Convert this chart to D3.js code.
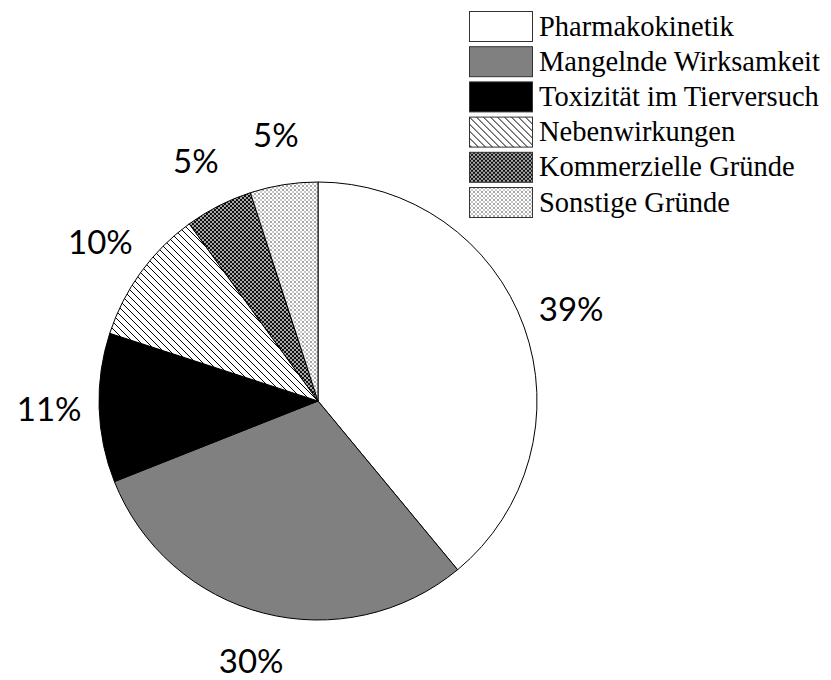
<!DOCTYPE html>
<html>
<head>
<meta charset="utf-8">
<script src="https://cdn.jsdelivr.net/npm/d3@7"></script>
<style>
  html, body { margin: 0; padding: 0; background: #fff; }
  svg { display: block; }
</style>
</head>
<body>
<svg id="chart" width="831" height="680"></svg>
<script>
const categories = ["Pharmakokinetik", "Mangelnde Wirksamkeit", "Toxizität im Tierversuch", "Nebenwirkungen", "Kommerzielle Gründe", "Sonstige Gründe"];
const values = [39, 30, 11, 10, 5, 5];
const labels = ["39%", "30%", "11%", "10%", "5%", "5%"];
const fills = ["#ffffff", "#808080", "#000000", "url(#hatch)", "url(#checkDark)", "url(#checkLight)"];

const svg = d3.select("#chart");
const defs = svg.append("defs");

// diagonal hatch
const hatch = defs.append("pattern").attr("id", "hatch").attr("patternUnits", "userSpaceOnUse")
  .attr("width", 7).attr("height", 7);
hatch.append("rect").attr("width", 7).attr("height", 7).attr("fill", "#fff");
hatch.append("path").attr("d", "M0,0 L7,7 M-1,6 L1,8 M6,-1 L8,1")
  .attr("stroke", "#000").attr("stroke-width", 1.1).attr("shape-rendering", "crispEdges");

// dark checker
const cd = defs.append("pattern").attr("id", "checkDark").attr("patternUnits", "userSpaceOnUse")
  .attr("width", 4).attr("height", 4);
cd.append("rect").attr("width", 4).attr("height", 4).attr("fill", "#a8a8a8");
cd.append("rect").attr("x", 0).attr("y", 0).attr("width", 2).attr("height", 2).attr("fill", "#111");
cd.append("rect").attr("x", 2).attr("y", 2).attr("width", 2).attr("height", 2).attr("fill", "#111");

// light checker
const cl = defs.append("pattern").attr("id", "checkLight").attr("patternUnits", "userSpaceOnUse")
  .attr("width", 4).attr("height", 4);
cl.append("rect").attr("width", 4).attr("height", 4).attr("fill", "#fff");
cl.append("rect").attr("x", 0).attr("y", 0).attr("width", 2).attr("height", 2).attr("fill", "#a8a8a8");
cl.append("rect").attr("x", 2).attr("y", 2).attr("width", 2).attr("height", 2).attr("fill", "#c8c8c8");

const cx = 318, cy = 401, R = 219, labelR = 269;
const data = categories.map((c, i) => ({ cat: c, value: values[i], label: labels[i], fill: fills[i] }));

const pie = d3.pie().value(d => d.value).sort(null);
const arc = d3.arc().innerRadius(0).outerRadius(R);
const labelArc = d3.arc().innerRadius(labelR).outerRadius(labelR);

const g = svg.append("g").attr("transform", `translate(${cx},${cy})`);
const arcs = pie(data);
g.selectAll("path.slice").data(arcs).join("path")
  .attr("class", "slice")
  .attr("d", arc)
  .attr("fill", d => d.data.fill)
  .attr("stroke", "#000")
  .attr("stroke-width", 1)
  .attr("stroke-linejoin", "round");

g.selectAll("text.lbl").data(arcs).join("text")
  .attr("class", "lbl")
  .attr("transform", d => `translate(${labelArc.centroid(d)})`)
  .attr("text-anchor", "middle")
  .attr("dy", "0.35em")
  .attr("font-family", "Lato, 'Open Sans', sans-serif")
  .attr("font-size", 33)
  .attr("fill", "#000")
  .text(d => d.data.label);

// legend
const lg = svg.append("g").attr("transform", "translate(469,11)");
const rowH = 35.2;
const rows = lg.selectAll("g.row").data(data).join("g")
  .attr("class", "row")
  .attr("transform", (d, i) => `translate(0,${i * rowH})`);
rows.append("rect")
  .attr("x", 0.5).attr("y", 0.5).attr("width", 63).attr("height", 30)
  .attr("fill", d => d.fill)
  .attr("stroke", "#333").attr("stroke-width", 1);
rows.append("text")
  .attr("x", 70).attr("y", 24.5)
  .attr("font-family", "'Liberation Serif', 'DejaVu Serif', serif")
  .attr("font-size", 28.5)
  .attr("fill", "#000")
  .text(d => d.cat);
</script>
</body>
</html>
